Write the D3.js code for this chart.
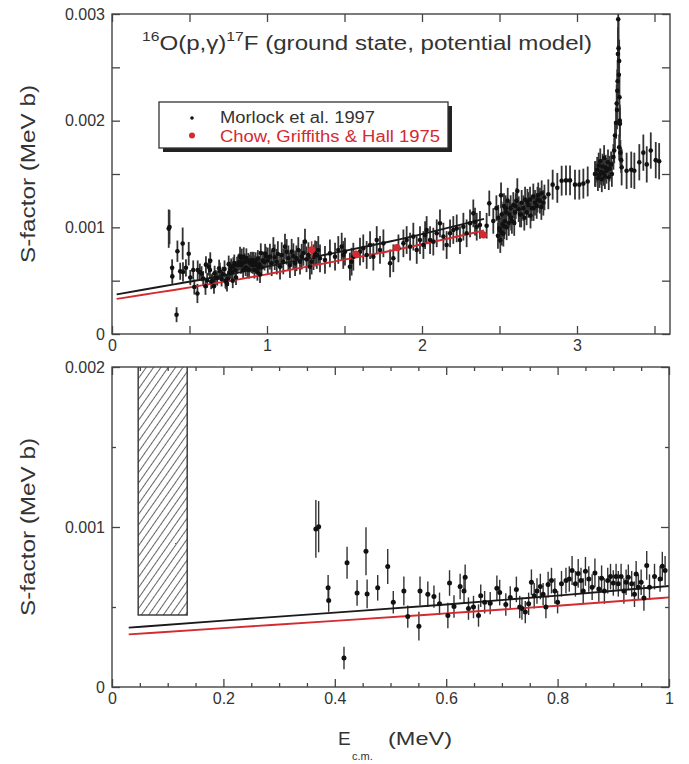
<!DOCTYPE html>
<html><head><meta charset="utf-8">
<script src="https://cdn.jsdelivr.net/npm/d3@7"></script>
<style>
body{margin:0;background:#fff}
text{font-family:"Liberation Sans",Arial,Helvetica,sans-serif;fill:#333}
</style>
</head><body>
<svg id="chart" width="689" height="764"></svg>
<script>
// ---------- DATA ----------
// Morlock et al. 1997 : [E_cm (MeV), S (MeV b), error (MeV b)]
const morlock = [
 [0.366,0.000988,0.00018],[0.371,0.001002,0.00016],[0.388,0.00062,0.00008],[0.389,0.00054,0.00007],
 [0.4165,0.000181,0.00007],[0.422,0.000776,0.0001],[0.44,0.000588,0.00008],[0.456,0.000848,0.00015],
 [0.458,0.000582,0.00009],[0.477,0.00062,0.00008],[0.495,0.000753,0.00011],[0.505,0.00053,0.00007],
 [0.524,0.0006,0.00009],[0.531,0.00044,0.00007],[0.551,0.00038,0.00009],[0.553,0.0006,0.00009],
 [0.567,0.00058,0.00008],[0.578,0.000565,0.00007],[0.588,0.00052,0.00007],[0.603,0.000447,0.00008],
 [0.606,0.00065,0.00008],[0.614,0.000503,0.00007],[0.625,0.000628,0.00008],[0.632,0.0006,0.00008],
 [0.634,0.000686,0.00008],[0.64,0.00049,0.00007],[0.649,0.0005,0.00007],[0.658,0.000447,0.00007],
 [0.662,0.00057,0.00007],[0.669,0.00053,0.00007],[0.679,0.000524,0.00007],[0.691,0.000617,0.00008],
 [0.696,0.00059,0.00008],[0.707,0.000516,0.00007],[0.715,0.00056,0.00007],[0.726,0.00061,0.00008],
 [0.732,0.0005,0.00007],[0.736,0.00049,0.00007],[0.742,0.000468,0.00007],[0.748,0.00052,0.00007],
 [0.753,0.000655,0.00008],[0.758,0.00057,0.00008],[0.763,0.0006,0.00008],[0.769,0.000628,0.00008],
 [0.774,0.00058,0.00007],[0.779,0.0005,0.00007],[0.783,0.00064,0.00008],[0.789,0.000665,0.00008],
 [0.795,0.0006,0.00008],[0.8,0.00053,0.00007],[0.807,0.000645,0.00008],[0.815,0.000665,0.00008],
 [0.821,0.000675,0.00008],[0.826,0.000728,0.00009],[0.832,0.000645,0.00008],[0.837,0.00071,0.00009],
 [0.842,0.000665,0.00008],[0.846,0.0006,0.00008],[0.85,0.000723,0.00009],[0.856,0.000675,0.00008],
 [0.862,0.000624,0.00008],[0.867,0.000713,0.00009],[0.874,0.000613,0.00008],[0.879,0.00068,0.00008],
 [0.884,0.0006,0.00008],[0.89,0.000665,0.00008],[0.895,0.00069,0.00008],[0.9,0.00065,0.00008],
 [0.905,0.00069,0.00008],[0.909,0.000645,0.00008],[0.914,0.00069,0.00008],[0.919,0.0006,0.00008],
 [0.923,0.000655,0.00008],[0.927,0.000686,0.00008],[0.933,0.000645,0.00008],[0.938,0.00058,0.00008],
 [0.941,0.000707,0.00008],[0.945,0.000624,0.00008],[0.95,0.000655,0.00008],[0.955,0.000557,0.00008],
 [0.96,0.00076,0.00009],[0.965,0.000624,0.00008],[0.974,0.00069,0.00008],[0.984,0.000675,0.00008],
 [0.988,0.000755,0.00009],[0.993,0.000728,0.00009],
 [1.005,0.00069,0.00012],[1.019,0.000725,0.00012],[1.03,0.000663,0.00012],[1.041,0.000788,0.00012],
 [1.05,0.00072,0.00012],[1.063,0.000678,0.00012],[1.07,0.00075,0.00012],[1.084,0.000631,0.00012],
 [1.095,0.00074,0.00012],[1.105,0.00068,0.00012],[1.116,0.000819,0.00012],[1.127,0.00077,0.00012],
 [1.138,0.00071,0.00012],[1.148,0.000644,0.00012],[1.159,0.000772,0.00012],[1.17,0.00073,0.00012],
 [1.181,0.000663,0.00012],[1.19,0.00071,0.00012],[1.202,0.000788,0.00012],[1.213,0.000678,0.00012],
 [1.224,0.000725,0.00012],[1.235,0.00076,0.00012],[1.245,0.000866,0.00012],[1.255,0.0007,0.00012],
 [1.267,0.00074,0.00012],[1.277,0.000631,0.00012],[1.288,0.000678,0.00012],[1.3,0.00072,0.00012],
 [1.31,0.000756,0.00012],[1.321,0.000741,0.00013],[1.331,0.000788,0.00013],[1.342,0.00071,0.00013],
 [1.374,0.000694,0.00013],[1.406,0.000756,0.00013],[1.439,0.000725,0.00013],[1.46,0.000788,0.00013],
 [1.482,0.000819,0.00013],[1.492,0.000741,0.00013],[1.503,0.000772,0.00013],[1.535,0.000631,0.00013],
 [1.546,0.000678,0.00013],[1.557,0.000725,0.00013],[1.6,0.000772,0.00013],[1.621,0.000803,0.00013],
 [1.643,0.000741,0.00013],[1.665,0.000834,0.00013],[1.686,0.000725,0.00013],[1.708,0.000881,0.00013],
 [1.729,0.000788,0.00013],[1.751,0.00085,0.00013],[1.794,0.000663,0.00013],[1.815,0.00071,0.00013],
 [1.848,0.000803,0.00013],[1.88,0.00085,0.00013],[1.901,0.000881,0.00013],[1.923,0.000819,0.00013],
 [1.944,0.000913,0.00013],[1.966,0.000788,0.00013],[1.987,0.000881,0.00013],[2.009,0.000834,0.00013],
 [2.02,0.000928,0.00013],[2.03,0.000975,0.00013],[2.052,0.000881,0.00013],[2.073,0.000866,0.00013],
 [2.095,0.000944,0.00013],[2.116,0.001038,0.00013],[2.138,0.000913,0.00013],[2.159,0.000834,0.00013],
 [2.181,0.000944,0.00013],[2.202,0.000975,0.00013],[2.224,0.00099,0.00013],[2.245,0.000881,0.00013],
 [2.267,0.001006,0.00013],[2.288,0.000944,0.00013],[2.31,0.001038,0.00013],[2.331,0.001131,0.00013],
 [2.342,0.001053,0.00013],[2.353,0.001006,0.00013],[2.374,0.001022,0.00013],
 [2.417,0.001015,0.00012],[2.434,0.001225,0.00012],[2.46,0.00106,0.00012],[2.48,0.00118,0.00012],
 [2.49,0.00092,0.00012],[2.492,0.00109,0.00012],[2.5,0.00099,0.00012],[2.503,0.00097,0.00012],
 [2.505,0.00088,0.00012],[2.51,0.0013,0.00012],[2.514,0.00112,0.00012],[2.515,0.00095,0.00012],
 [2.52,0.00103,0.00012],[2.525,0.00094,0.00012],[2.529,0.0012,0.00012],[2.53,0.00101,0.00012],
 [2.535,0.00106,0.00012],[2.54,0.00118,0.00012],[2.542,0.00114,0.00012],[2.546,0.001,0.00012],
 [2.553,0.00125,0.00012],[2.56,0.00104,0.00012],[2.563,0.00112,0.00012],[2.572,0.00118,0.00012],
 [2.575,0.00109,0.00012],[2.58,0.00106,0.00012],[2.589,0.00121,0.00012],[2.595,0.00104,0.00012],
 [2.6,0.00114,0.00012],[2.605,0.0012,0.00012],[2.61,0.00125,0.00012],[2.615,0.00134,0.00012],
 [2.624,0.00117,0.00012],[2.632,0.00112,0.00012],[2.64,0.00112,0.00012],[2.643,0.00123,0.00012],
 [2.654,0.00118,0.00012],[2.66,0.00109,0.00012],[2.665,0.00126,0.00012],[2.675,0.00114,0.00012],
 [2.68,0.00124,0.00012],[2.686,0.00121,0.00012],[2.697,0.00126,0.00012],[2.7,0.00111,0.00012],
 [2.708,0.00118,0.00012],[2.718,0.00129,0.00012],[2.72,0.00118,0.00012],[2.729,0.00123,0.00012],
 [2.74,0.0012,0.00012],[2.745,0.00126,0.00012],[2.75,0.0013,0.00012],[2.761,0.00125,0.00012],
 [2.77,0.00119,0.00012],[2.772,0.00132,0.00012],[2.783,0.00123,0.00012],[2.79,0.00128,0.00012],
 [2.815,0.00131,0.00014],[2.843,0.0014,0.00014],[2.873,0.00137,0.00014],[2.901,0.001437,0.00014],
 [2.929,0.00144,0.00014],[2.955,0.00144,0.00014],[2.987,0.0014,0.00014],[3.015,0.0014,0.00014],
 [3.041,0.00141,0.00014],[3.069,0.00143,0.00014],
 [3.116,0.0015,0.00012],[3.12,0.0015,0.00012],[3.13,0.00154,0.00012],[3.135,0.00146,0.00012],
 [3.14,0.00158,0.00012],[3.145,0.00149,0.00012],[3.15,0.00162,0.00012],[3.155,0.00152,0.00012],
 [3.16,0.00145,0.00012],[3.165,0.00157,0.00012],[3.17,0.00151,0.00012],[3.175,0.00165,0.00012],
 [3.18,0.00148,0.00012],[3.185,0.00156,0.00012],[3.19,0.00153,0.00012],[3.2,0.00161,0.00012],
 [3.205,0.00147,0.00012],[3.21,0.00155,0.00012],[3.22,0.00159,0.00012],[3.225,0.0015,0.00012],
 [3.235,0.00166,0.00012],[3.24,0.00172,0.00012],
 [3.245,0.00186,0.00012],[3.252,0.00198,0.00015],[3.256,0.00216,0.00018],[3.258,0.0021,0.00018],
 [3.26,0.00228,0.0002],[3.262,0.00237,0.0002],[3.264,0.002625,0.00025],[3.266,0.00295,0.0003],
 [3.268,0.00268,0.00025],[3.27,0.00243,0.0002],[3.272,0.00256,0.0002],[3.274,0.00222,0.0002],
 [3.276,0.0020,0.00015],[3.277,0.00197,0.00015],[3.272,0.00175,0.00012],[3.28,0.0017,0.00012],
 [3.285,0.00163,0.00012],
 [3.288,0.001563,0.00017],[3.32,0.00153,0.00017],[3.35,0.00154,0.00017],[3.37,0.00153,0.00017],
 [3.402,0.00161,0.00017],[3.428,0.0017,0.00017],[3.45,0.00159,0.00017],[3.476,0.00172,0.00017],
 [3.508,0.00163,0.00017],[3.53,0.00162,0.00017]
];
// Chow, Griffiths & Hall 1975
const chow = [[1.288,0.00079,0.00008],[1.574,0.00075,0.00003],[1.837,0.00081,0.00003],[2.396,0.00093,0.00003]];
// Potential-model curves
const modelE     = [0.03, 0.2, 0.4, 0.6, 0.8, 1.0, 1.4, 1.8, 2.4];
const modelBlack = [0.000371, 0.000415, 0.000465, 0.000516, 0.000571, 0.000631, 0.00075, 0.00087, 0.00108];
const modelRed   = [0.000329, 0.000368, 0.000413, 0.00046, 0.000508, 0.00056, 0.00067, 0.00078, 0.00097];
// Hatched region (lower panel)
const hatchE = [0.047, 0.135];
const hatchS = [0.00045, 0.002];
// Ticks
const topXMajor = [0, 1, 2, 3];
const topXMinor = [0.5, 1.5, 2.5, 3.5];
const topYMajor = [0, 0.001, 0.002, 0.003];
const topYMinor = [0.0005, 0.0015, 0.0025];
const botXMajor = [0, 0.2, 0.4, 0.6, 0.8, 1];
const botXMinor = [0.05,0.1,0.15,0.25,0.3,0.35,0.45,0.5,0.55,0.65,0.7,0.75,0.85,0.9,0.95];
const botYMajor = [0, 0.001, 0.002];
const botYMinor = [0.0005, 0.0015];
const legendLabels = ["Morlock et al. 1997", "Chow, Griffiths & Hall 1975"];

// ---------- DRAW ----------
const svg = d3.select("#chart");
const RED = "#d42a30";
const defs = svg.append("defs");
const pat = defs.append("pattern").attr("id","hatch").attr("patternUnits","userSpaceOnUse")
  .attr("width",6).attr("height",10).attr("patternTransform","rotate(35)");
pat.append("line").attr("x1",0).attr("y1",0).attr("x2",0).attr("y2",10)
  .attr("stroke","#222").attr("stroke-width",1.4);

function fitWidth(sel, w){
  sel.attr("textLength", w).attr("lengthAdjust","spacingAndGlyphs");
}

function panel(cfg){
  const x = d3.scaleLinear().domain(cfg.xd).range([cfg.left, cfg.right]);
  const y = d3.scaleLinear().domain(cfg.yd).range([cfg.bottom, cfg.top]);
  const g = svg.append("g");
  const cid = "clip" + cfg.id;
  defs.append("clipPath").attr("id", cid).append("rect")
    .attr("x", cfg.left).attr("y", cfg.top).attr("width", cfg.right-cfg.left).attr("height", cfg.bottom-cfg.top);
  const pg = g.append("g").attr("clip-path", `url(#${cid})`);

  if (cfg.hatch){
    pg.append("rect").attr("x", x(hatchE[0])).attr("y", y(hatchS[1])-2)
      .attr("width", x(hatchE[1])-x(hatchE[0])).attr("height", y(hatchS[0])-y(hatchS[1])+2)
      .attr("fill","url(#hatch)").attr("stroke","#333").attr("stroke-width",1.4);
  }
  const data = morlock.filter(d => d[0] >= cfg.xd[0] && d[0] <= cfg.xd[1]);
  pg.append("g").selectAll("line").data(data).join("line")
    .attr("x1", d => x(d[0])).attr("x2", d => x(d[0]))
    .attr("y1", d => y(d[1]-d[2])).attr("y2", d => y(d[1]+d[2]))
    .attr("stroke", cfg.barColor).attr("stroke-width", cfg.barWidth);

  const line = d3.line().x((d,i) => x(modelE[i])).y(d => y(d)).curve(d3.curveMonotoneX);
  pg.append("path").attr("d", line(modelBlack)).attr("fill","none").attr("stroke","#1a1a1a").attr("stroke-width",1.9);
  pg.append("path").attr("d", line(modelRed)).attr("fill","none").attr("stroke",RED).attr("stroke-width",1.9);

  pg.append("g").selectAll("circle").data(data).join("circle")
    .attr("cx", d => x(d[0])).attr("cy", d => y(d[1])).attr("r", cfg.r).attr("fill","#111");

  const cdata = chow.filter(d => d[0] >= cfg.xd[0] && d[0] <= cfg.xd[1]);
  pg.append("g").selectAll("line").data(cdata).join("line")
    .attr("x1", d => x(d[0])).attr("x2", d => x(d[0]))
    .attr("y1", d => y(d[1]-d[2])).attr("y2", d => y(d[1]+d[2]))
    .attr("stroke", RED).attr("stroke-width", 1.5);
  pg.append("g").selectAll("circle").data(cdata).join("circle")
    .attr("cx", d => x(d[0])).attr("cy", d => y(d[1])).attr("r", 3.6).attr("fill", RED);

  // inward ticks
  const tickGroups = [
    [d3.axisBottom, cfg.bottom, "x"], [d3.axisTop, cfg.top, "x"],
    [d3.axisLeft, cfg.left, "y"], [d3.axisRight, cfg.right, "y"]];
  tickGroups.forEach(([ax, pos, dim]) => {
    const sc = dim === "x" ? x : y;
    const maj = dim === "x" ? cfg.xMajor : cfg.yMajor;
    const min = dim === "x" ? cfg.xMinor : cfg.yMinor;
    [[maj, 8],[min, cfg.minorLen]].forEach(([vals, len]) => {
      const a = g.append("g")
        .attr("transform", dim === "x" ? `translate(0,${pos})` : `translate(${pos},0)`)
        .call(ax(sc).tickValues(vals).tickSize(-len).tickFormat(""));
      a.select(".domain").remove();
      a.selectAll("line").attr("stroke","#444").attr("stroke-width",1.3);
    });
  });
  // frame
  g.append("rect").attr("x", cfg.left).attr("y", cfg.top)
    .attr("width", cfg.right-cfg.left).attr("height", cfg.bottom-cfg.top)
    .attr("fill","none").attr("stroke","#444").attr("stroke-width",1.4);

  // labels
  const xl = g.append("g").attr("transform", `translate(0,${cfg.bottom})`)
    .call(d3.axisBottom(x).tickValues(cfg.xMajor).tickSize(0).tickPadding(6).tickFormat(cfg.xFmt));
  xl.select(".domain").remove();
  xl.selectAll("text").attr("font-size",16).attr("font-family",null).style("fill","#333");
  const yl = g.append("g").attr("transform", `translate(${cfg.left},0)`)
    .call(d3.axisLeft(y).tickValues(cfg.yMajor).tickSize(0).tickPadding(7).tickFormat(d => d === 0 ? "0" : d3.format(".3f")(d)));
  yl.select(".domain").remove();
  yl.selectAll("text").attr("font-size",16).attr("font-family",null).style("fill","#333");

  const yt = svg.append("text").attr("transform", `translate(35,${(cfg.top+cfg.bottom)/2}) rotate(-90)`)
    .attr("text-anchor","middle").attr("font-size",20).text("S-factor  (MeV b)");
  fitWidth(yt, 178);
  return {x, y};
}

panel({id:"top", xd:[0,3.6], yd:[0,0.003], left:112, right:670, top:14, bottom:334,
  xMajor:topXMajor, xMinor:topXMinor, yMajor:topYMajor, yMinor:topYMinor, minorLen:8,
  xFmt: d3.format("d"), r:2.3, barColor:"#333", barWidth:1.8, hatch:false});
panel({id:"bot", xd:[0,1], yd:[0,0.002], left:112, right:669, top:367, bottom:687,
  xMajor:botXMajor, xMinor:botXMinor, yMajor:botYMajor, yMinor:botYMinor, minorLen:4,
  xFmt: d => (d === 0 || d === 1) ? String(d) : d3.format(".1f")(d), r:2.5, barColor:"#333", barWidth:1.4, hatch:true});

// Title
const title = svg.append("text").attr("x",142).attr("y",50).attr("font-size",20);
title.append("tspan").attr("font-size",13).attr("dy",-9).text("16");
title.append("tspan").attr("dy",9).text("O(p,γ)");
title.append("tspan").attr("font-size",13).attr("dy",-9).text("17");
title.append("tspan").attr("dy",9).text("F (ground state, potential model)");
fitWidth(title, 450);

// Legend
const lg = svg.append("g");
lg.append("rect").attr("x",163).attr("y",106).attr("width",289).attr("height",46).attr("fill","#222");
lg.append("rect").attr("x",159).attr("y",102).attr("width",289).attr("height",46).attr("fill","#fff")
  .attr("stroke","#333").attr("stroke-width",1.3);
lg.append("circle").attr("cx",192).attr("cy",118).attr("r",1.8).attr("fill","#111");
lg.append("circle").attr("cx",192).attr("cy",135.5).attr("r",3).attr("fill",RED);
const l1 = lg.append("text").attr("x",220).attr("y",122.5).attr("font-size",16).text(legendLabels[0]);
fitWidth(l1, 155);
const l2 = lg.append("text").attr("x",220).attr("y",141.5).attr("font-size",16).style("fill",RED).text(legendLabels[1]);
fitWidth(l2, 220);

// X axis title
svg.append("text").attr("x",338).attr("y",745).attr("font-size",19).text("E");
svg.append("text").attr("x",352).attr("y",760).attr("font-size",11).text("c.m.");
const mev = svg.append("text").attr("x",388).attr("y",745).attr("font-size",19).text("(MeV)");
fitWidth(mev, 64);
</script>
</body></html>
